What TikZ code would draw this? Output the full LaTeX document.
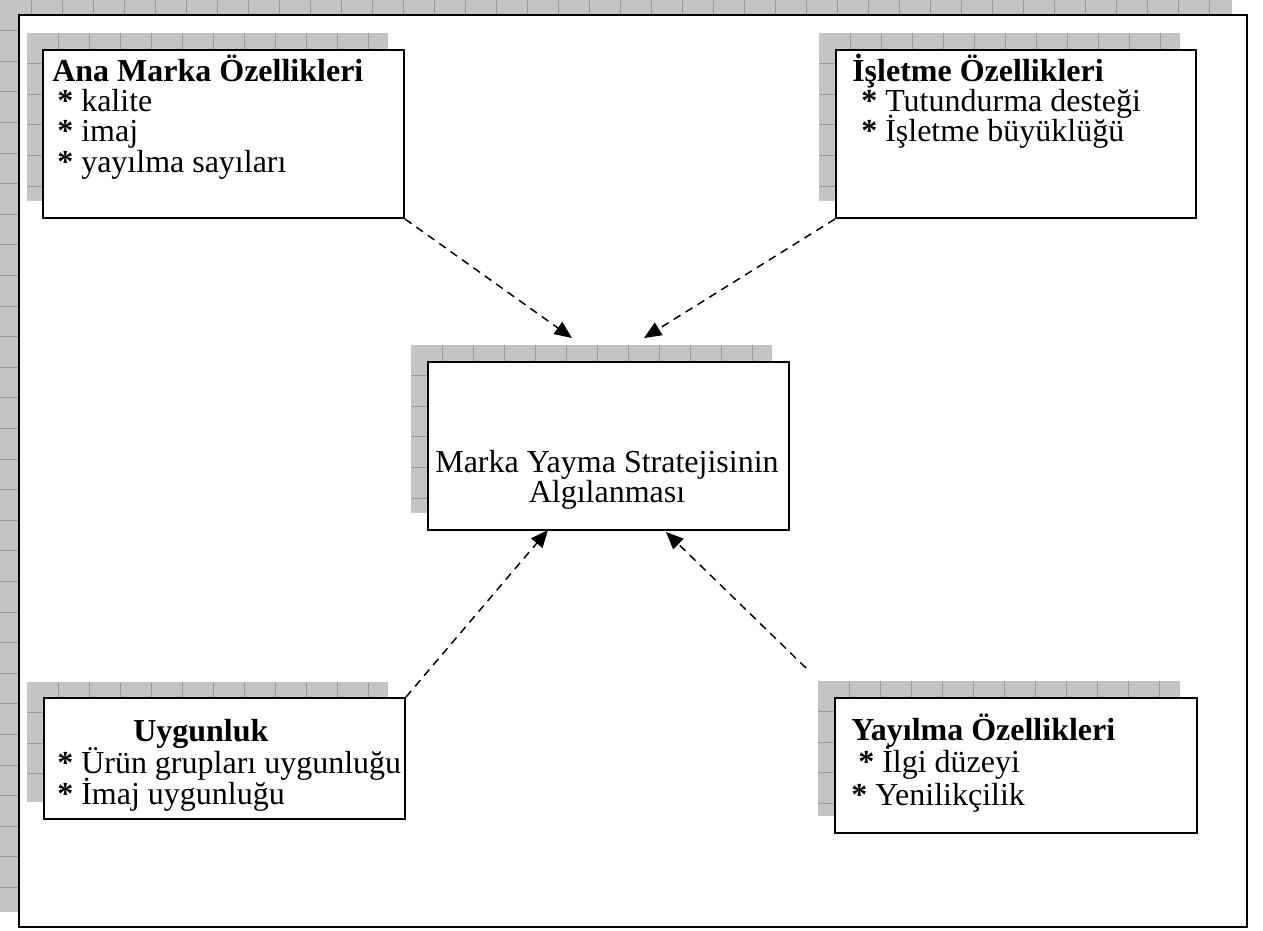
\documentclass[tikz,border=0pt]{standalone}
\usepackage{fontspec}
\setmainfont{Liberation Serif}
\usetikzlibrary{arrows.meta}
\definecolor{shadowfill}{HTML}{C4C4C4}
\definecolor{gridcol}{HTML}{9C9C9C}
\newcommand\gridshadow[4]{%
  \begin{scope}
    \clip (#1,#2) rectangle (#3,#4);
    \fill[shadowfill] (#1,#2) rectangle (#3,#4);
    \foreach \k in {1,...,41} {\draw[gridline] ({#1+\k*31},#2) -- ({#1+\k*31},#4);}
    \foreach \k in {1,...,31} {\draw[gridline] (#1,{#2+\k*30.6}) -- (#3,{#2+\k*30.6});}
  \end{scope}}
\tikzset{
  gridline/.style={draw=gridcol, line width=0.55pt},
  boxrect/.style={draw=black, fill=white, line width=1.5pt, rectangle, inner sep=0pt},
  frame/.style={draw=black, fill=white, line width=1.4pt},
  txt/.style={anchor=base west, inner sep=0pt, font=\fontsize{24}{24}\selectfont},
  hd/.style={anchor=base west, inner sep=0pt, font=\fontsize{24}{24}\selectfont\bfseries},
  ctxt/.style={anchor=base, inner sep=0pt, font=\fontsize{24}{24}\selectfont},
  conn/.style={draw=black, line width=1.1pt, dash pattern=on 6pt off 4.5pt,
    -{Triangle[length=13pt,width=11pt]}}
}
\begin{document}
\begin{tikzpicture}[x=0.75pt,y=-0.75pt]
\useasboundingbox (0,0) rectangle (1263,931);
% page shadow and frame
\gridshadow{0}{0}{1232}{912}
\draw[frame] (19,15) rectangle (1247,927);
% box shadows
\gridshadow{27}{33}{388}{201}
\gridshadow{819}{33}{1180}{201}
\gridshadow{411}{345}{772}{513}
\gridshadow{27}{682}{388}{802}
\gridshadow{818}{681}{1180}{816}
% boxes
\node[boxrect, anchor=north west, minimum width=361*0.75pt, minimum height=168*0.75pt] (ana) at (42,49) {};
\node[boxrect, anchor=north west, minimum width=360*0.75pt, minimum height=168*0.75pt] (isl) at (835,49) {};
\node[boxrect, anchor=north west, minimum width=361*0.75pt, minimum height=168*0.75pt] (mid) at (427,361) {};
\node[boxrect, anchor=north west, minimum width=361*0.75pt, minimum height=121*0.75pt] (uyg) at (43,697) {};
\node[boxrect, anchor=north west, minimum width=362*0.75pt, minimum height=135*0.75pt] (yay) at (834,697) {};
% texts
\node[hd] (anaH) at (52,81) {Ana Marka Özellikleri};
\node[txt] (ana1) at (57,111) {\textbf{*} kalite};
\node[txt] (ana2) at (57,141) {\textbf{*} imaj};
\node[txt] (ana3) at (57,172) {\textbf{*} yayılma sayıları};
\node[hd] (islH) at (852,81) {İşletme Özellikleri};
\node[txt] (isl1) at (861,111) {\textbf{*} Tutundurma desteği};
\node[txt] (isl2) at (861,141) {\textbf{*} İşletme büyüklüğü};
\node[ctxt] (mid1) at (607,472) {Marka Yayma Stratejisinin};
\node[ctxt] (mid2) at (607,502) {Algılanması};
\node[hd] (uygH) at (133,741) {Uygunluk};
\node[txt] (uyg1) at (57,773) {\textbf{*} Ürün grupları uygunluğu};
\node[txt] (uyg2) at (57,804) {\textbf{*} İmaj uygunluğu};
\node[hd] (yayH) at (851,740) {Yayılma Özellikleri};
\node[txt] (yay1) at (858,772) {\textbf{*} İlgi düzeyi};
\node[txt] (yay2) at (851,805) {\textbf{*} Yenilikçilik};
% connectors
\coordinate (t1) at (572,338);
\coordinate (t2) at (644,338);
\coordinate (t3) at (548,530);
\coordinate (t4) at (666,532);
\coordinate (s4) at (806,668);
\draw[conn] (ana.south east) -- (t1);
\draw[conn] (isl.south west) -- (t2);
\draw[conn] (uyg.north east) -- (t3);
\draw[conn] (s4) -- (t4);
\end{tikzpicture}
\end{document}
